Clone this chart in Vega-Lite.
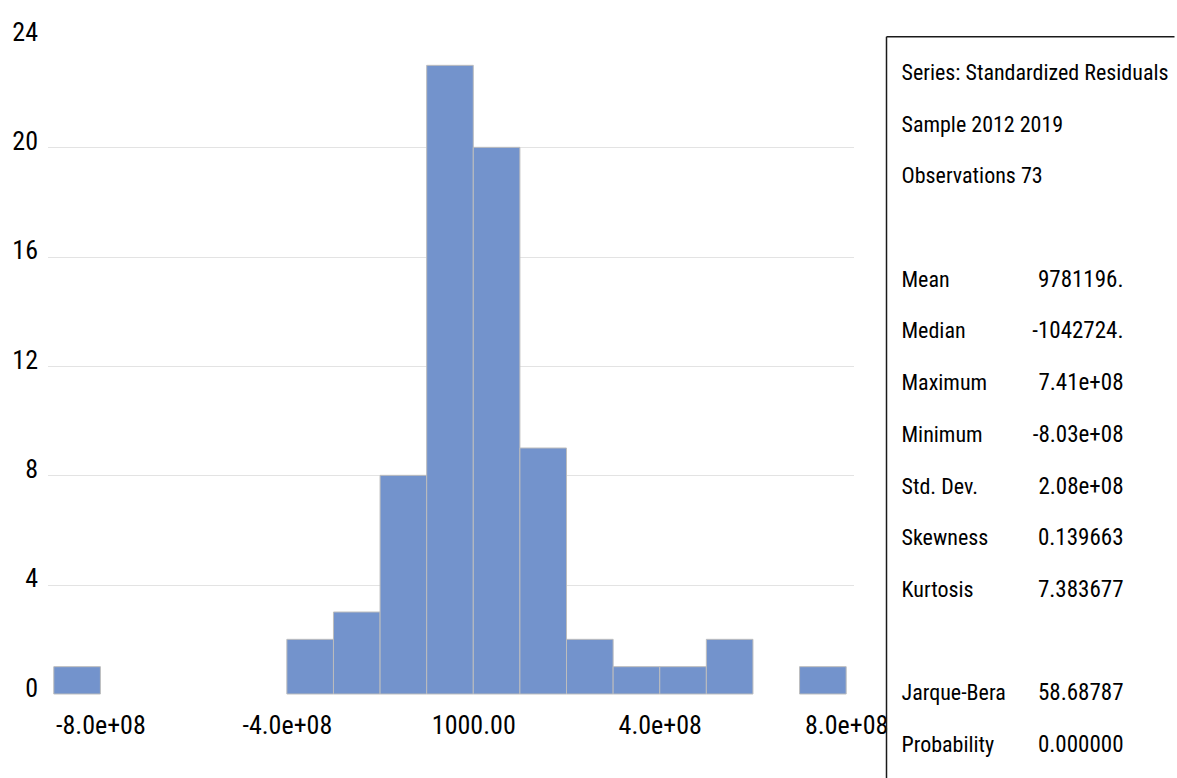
{
  "$schema": "https://vega.github.io/schema/vega-lite/v6.json",
  "padding": {"left": 11.5, "top": 19, "right": 0, "bottom": 0},
  "background": "white",
  "bounds": "flush",
  "spacing": 33,
  "config": {"view": {"stroke": null}, "font": "Roboto Condensed"},
  "datasets": {
    "hist": [
      {"bin_start": -900000000, "bin_end": -800000000, "count": 1},
      {"bin_start": -400000000, "bin_end": -300000000, "count": 2},
      {"bin_start": -300000000, "bin_end": -200000000, "count": 3},
      {"bin_start": -200000000, "bin_end": -100000000, "count": 8},
      {"bin_start": -100000000, "bin_end": 0, "count": 23},
      {"bin_start": 0, "bin_end": 100000000, "count": 20},
      {"bin_start": 100000000, "bin_end": 200000000, "count": 9},
      {"bin_start": 200000000, "bin_end": 300000000, "count": 2},
      {"bin_start": 300000000, "bin_end": 400000000, "count": 1},
      {"bin_start": 400000000, "bin_end": 500000000, "count": 1},
      {"bin_start": 500000000, "bin_end": 600000000, "count": 2},
      {"bin_start": 700000000, "bin_end": 800000000, "count": 1}
    ],
    "stats": [
      {"row": 0, "label": "Series: Standardized Residuals", "value": ""},
      {"row": 1, "label": "Sample 2012 2019", "value": ""},
      {"row": 2, "label": "Observations 73", "value": ""},
      {"row": 4, "label": "Mean", "value": "9781196."},
      {"row": 5, "label": "Median", "value": "-1042724."},
      {"row": 6, "label": "Maximum", "value": "7.41e+08"},
      {"row": 7, "label": "Minimum", "value": "-8.03e+08"},
      {"row": 8, "label": "Std. Dev.", "value": "2.08e+08"},
      {"row": 9, "label": "Skewness", "value": "0.139663"},
      {"row": 10, "label": "Kurtosis", "value": "7.383677"},
      {"row": 12, "label": "Jarque-Bera", "value": "58.68787"},
      {"row": 13, "label": "Probability", "value": "0.000000"}
    ]
  },
  "hconcat": [
    {
      "width": 806,
      "height": 656,
      "data": {"name": "hist"},
      "mark": {"type": "bar", "color": "#7393CC", "stroke": "#BDBDBD", "strokeWidth": 1},
      "encoding": {
        "x": {
          "field": "bin_start",
          "type": "quantitative",
          "scale": {"domain": [-913500000, 815700000], "nice": false, "zero": false},
          "axis": {
            "values": [-800000000, -400000000, 0, 400000000, 800000000],
            "title": null,
            "domain": false,
            "ticks": false,
            "grid": false,
            "labelPadding": 18,
            "labelFontSize": 26,
            "labelColor": "black",
            "labelFlush": false,
            "labelOverlap": false,
            "labelBound": false,
            "labelExpr": "datum.value == 0 ? '1000.00' : (datum.value < 0 ? '-' : '') + format(abs(datum.value) / 1e8, '.1f') + 'e+08'"
          }
        },
        "x2": {"field": "bin_end"},
        "y": {
          "field": "count",
          "type": "quantitative",
          "scale": {"domain": [0, 24], "nice": false},
          "axis": {
            "values": [0, 4, 8, 12, 16, 20, 24],
            "title": null,
            "domain": false,
            "ticks": false,
            "labelPadding": 10,
            "labelFontSize": 26,
            "labelColor": "black",
            "labelBaseline": "middle",
            "labelOffset": -6,
            "gridColor": "#E3E3E3",
            "gridOpacity": {"condition": {"test": "datum.value == 0 || datum.value == 24", "value": 0}, "value": 1}
          }
        },
        "y2": {"datum": 0}
      }
    },
    {
      "width": 288,
      "height": 741,
      "layer": [
        {
          "data": {"values": [{}]},
          "mark": {"type": "rule", "color": "#1A1A1A", "strokeWidth": 1.5},
          "encoding": {
            "x": {"datum": 0, "type": "quantitative", "scale": {"domain": [0, 288], "nice": false, "zero": false}, "axis": null},
            "y": {"datum": -0.7, "type": "quantitative", "scale": {"domain": [-0.677, 13.656], "reverse": true, "nice": false, "zero": false}, "axis": null},
            "y2": {"datum": 13.656}
          }
        },
        {
          "data": {"values": [{}]},
          "mark": {"type": "rule", "color": "#1A1A1A", "strokeWidth": 1.5},
          "encoding": {
            "x": {"datum": 0, "type": "quantitative"},
            "x2": {"datum": 288},
            "y": {"datum": -0.7, "type": "quantitative"}
          }
        },
        {
          "data": {"name": "stats"},
          "mark": {"type": "text", "align": "left", "baseline": "middle", "fontSize": 22, "color": "black"},
          "encoding": {
            "x": {"datum": 15, "type": "quantitative"},
            "y": {"field": "row", "type": "quantitative"},
            "text": {"field": "label"}
          }
        },
        {
          "data": {"name": "stats"},
          "mark": {"type": "text", "align": "right", "baseline": "middle", "fontSize": 23, "color": "black"},
          "encoding": {
            "x": {"datum": 237, "type": "quantitative"},
            "y": {"field": "row", "type": "quantitative"},
            "text": {"field": "value"}
          }
        }
      ]
    }
  ]
}
